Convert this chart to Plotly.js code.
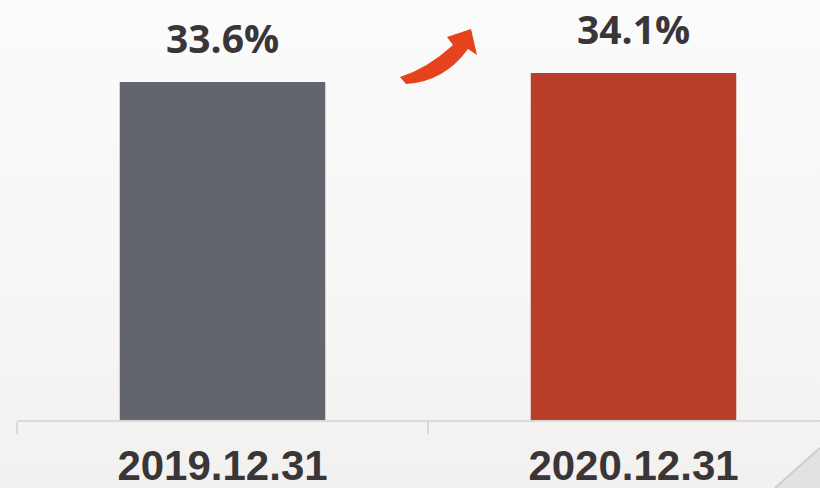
<!DOCTYPE html>
<html>
<head>
<meta charset="utf-8">
<script src="https://cdn.plot.ly/plotly-3.0.1.min.js"></script>
<style>
html,body{margin:0;padding:0;}
body{width:820px;height:488px;overflow:hidden;background:linear-gradient(180deg,#fbfbfb 0%,#f6f6f5 60%,#f2f1ef 100%);}
#chart{width:820px;height:488px;}
</style>
</head>
<body>
<div id="chart"></div>
<script>
const categories = ['2019.12.31', '2020.12.31'];
const values = [33.6, 34.1];
const valueLabels = ['33.6%', '34.1%'];
const barColors = ['#62656c', '#b93f2a'];

const W = 820, H = 488;
const M = {l: 17, r: 0, t: 0, b: 68};
const pw = W - M.l - M.r, ph = H - M.t - M.b;
function px(x){ return ((x - M.l) / pw).toFixed(5); }
function py(y){ return ((H - M.b - y) / ph).toFixed(5); }
function P(x, y){ return px(x) + ',' + py(y); }

// decorative arrow (pixel coords converted to paper coords)
const arrowPath = 'M' + P(400,77) +
  ' Q' + P(428,68) + ' ' + P(453,45) +
  ' L' + P(447,37) +
  ' L' + P(471,29) +
  ' L' + P(477,55) +
  ' L' + P(468,49) +
  ' Q' + P(444,82) + ' ' + P(406,84) + ' Z';
const curlPath = 'M' + P(820,448) + ' Q' + P(795,470) + ' ' + P(775,488) + ' L' + P(820,488) + ' Z';
const curlEdge = 'M' + P(820,448) + ' Q' + P(795,470) + ' ' + P(775,488);

const trace = {
  type: 'bar',
  x: categories,
  y: values,
  marker: {color: barColors, line: {width: 0}},
  width: 0.5,
  hoverinfo: 'skip'
};

const annotations = categories.map((c, i) => ({
  x: c, y: values[i], xref: 'x', yref: 'y',
  text: valueLabels[i], showarrow: false,
  yanchor: 'bottom', yshift: 16,
  font: {family: '"Open Sans", "Noto Sans", sans-serif', size: 39, color: '#3a3637', weight: 700}
}));

const layout = {
  width: W, height: H,
  margin: M,
  paper_bgcolor: 'rgba(0,0,0,0)',
  plot_bgcolor: 'rgba(0,0,0,0)',
  showlegend: false,
  bargap: 0.5,
  xaxis: {
    type: 'category',
    range: [-0.5, -0.5 + pw / 411],
    showgrid: false, zeroline: false,
    showline: true, linecolor: '#d9d9d9', linewidth: 1.5,
    ticks: 'outside', tickson: 'boundaries', ticklen: 12, tickcolor: '#d9d9d9', tickwidth: 1.5,
    tickfont: {family: '"Liberation Sans", Arial, sans-serif', size: 42, color: '#3a3637', weight: 700},
    ticklabelstandoff: 8,
    fixedrange: true
  },
  yaxis: {
    range: [14.82, 14.82 + ph / 18],
    visible: false, showgrid: false, zeroline: false, fixedrange: true
  },
  annotations: annotations,
  shapes: [
    {type: 'path', xref: 'paper', yref: 'paper', path: arrowPath, fillcolor: '#e5421d', line: {width: 0}},
    {type: 'path', xref: 'paper', yref: 'paper', path: curlPath, fillcolor: '#e4e2e0', line: {width: 0}},
    {type: 'path', xref: 'paper', yref: 'paper', path: curlEdge, line: {color: '#cfcdcb', width: 2}}
  ]
};

Plotly.newPlot('chart', [trace], layout, {displayModeBar: false, staticPlot: true});
</script>
</body>
</html>
